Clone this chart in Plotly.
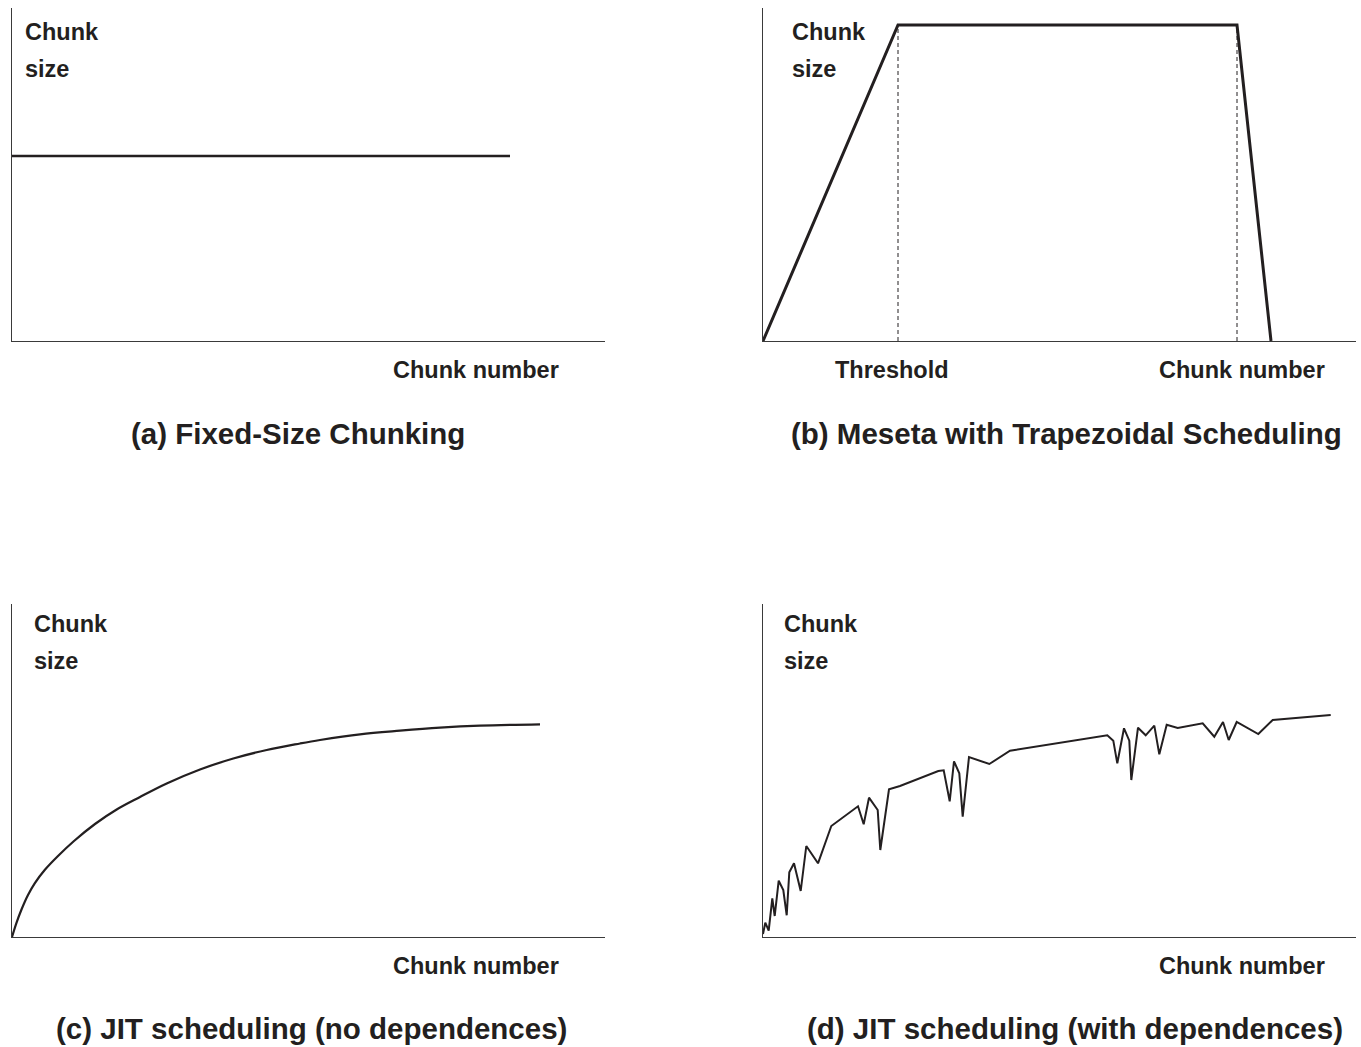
import plotly.graph_objects as go

# ---- data (arbitrary units: chunk number along x, chunk size along y) ----
# (a) fixed-size chunking
fixed_x = [0, 498]
fixed_y = [185, 185]

# (b) trapezoidal scheduling
trap_x = [0, 135, 474, 508]
trap_y = [0, 316, 316, 0]
threshold_x = 135
plateau_end_x = 474

# (c) JIT scheduling without dependences
jit_x = [0, 4.3, 9.3, 16, 22.7, 32.7, 46, 62, 83, 104.7, 128, 154.7, 188,
         221.3, 254.7, 288, 308, 348, 388, 428, 468, 528]
jit_y = [0, 13.7, 27, 42, 53.7, 67, 81, 96, 113, 127.5, 140, 153.5, 167.5,
         178.5, 187, 193.5, 197, 202.7, 206.3, 209.3, 211.3, 212.7]

# (d) JIT scheduling with dependences
dep_x = [0, 2.3, 5.7, 9.3, 11.7, 15.7, 20.3, 23.7, 26.3, 31, 37.7, 43.3, 55,
         68.3, 95, 100.7, 106, 114.7, 117.3, 126, 137, 175.3, 180.7, 186.7,
         191, 196.3, 199.7, 206, 226.3, 247, 344.3, 350.3, 354.3, 361, 366.3,
         368.3, 375, 382.7, 391.3, 396.3, 403.7, 414.7, 439.7, 451.3, 460,
         465.7, 473.7, 495.3, 509.7, 567.7]
dep_y = [3, 14.3, 6.3, 38.7, 21, 56.3, 47, 21.7, 64.7, 73.7, 46, 91, 73.7,
         111, 130.7, 112.7, 139.3, 127, 87, 147.7, 151, 166, 166.7, 135.7,
         175.7, 163.7, 120.3, 180, 173, 186.3, 201.7, 196.3, 173.7, 208.7,
         196.3, 157, 209.3, 201.7, 211.3, 182.7, 212.3, 209, 213.7, 200.3,
         215, 197, 215, 203, 217, 222]

# ---- layout helpers ----
W, H = 1361, 1047
INK = "#231f20"
FONT = "Liberation Sans, Arial, Helvetica, sans-serif"
X_RANGE = [0, 593]
Y_RANGE = [0, 333]


def px(v):
    return v / W


def py(v):
    return 1 - v / H


panels = {
    "a": dict(x0=12, x1=605, top=8, bottom=341),
    "b": dict(x0=763, x1=1356, top=8, bottom=341),
    "c": dict(x0=12, x1=605, top=604, bottom=937),
    "d": dict(x0=763, x1=1356, top=604, bottom=937),
}
axis_ids = {"a": ("x", "y"), "b": ("x2", "y2"), "c": ("x3", "y3"), "d": ("x4", "y4")}

fig = go.Figure()

line_w = {"a": 2.6, "b": 3, "c": 2.2, "d": 2}
line_shape = {"a": "linear", "b": "linear", "c": "spline", "d": "linear"}
series = {"a": (fixed_x, fixed_y), "b": (trap_x, trap_y),
          "c": (jit_x, jit_y), "d": (dep_x, dep_y)}

for key, (xs, ys) in series.items():
    xa, ya = axis_ids[key]
    fig.add_trace(go.Scatter(x=xs, y=ys, mode="lines", xaxis=xa, yaxis=ya,
                             line=dict(color=INK, width=line_w[key],
                                       shape=line_shape[key], smoothing=1.0),
                             showlegend=False, hoverinfo="skip"))

# dashed guides in panel (b)
for gx in (threshold_x, plateau_end_x):
    fig.add_trace(go.Scatter(x=[gx, gx], y=[0, trap_y[1]], mode="lines",
                             xaxis="x2", yaxis="y2",
                             line=dict(color=INK, width=1, dash="4px,3px"),
                             showlegend=False, hoverinfo="skip"))

layout = dict(width=W, height=H, margin=dict(l=0, r=0, t=0, b=0),
              paper_bgcolor="white", plot_bgcolor="white", showlegend=False)

for key, p in panels.items():
    xa, ya = axis_ids[key]
    xname = "xaxis" + xa[1:]
    yname = "yaxis" + ya[1:]
    layout[xname] = dict(domain=[px(p["x0"]), px(p["x1"])], range=X_RANGE,
                         anchor=ya, showline=True, linecolor="#3a3a3a",
                         linewidth=1.2, showgrid=False, zeroline=False,
                         showticklabels=False, ticks="", fixedrange=True)
    layout[yname] = dict(domain=[py(p["bottom"]), py(p["top"])], range=Y_RANGE,
                         anchor=xa, showline=True, linecolor="#3a3a3a",
                         linewidth=1.2, showgrid=False, zeroline=False,
                         showticklabels=False, ticks="", fixedrange=True)

fig.update_layout(**layout)


def text(s, x, y, size, anchor="center"):
    fig.add_annotation(text=s, x=px(x), y=py(y), xref="paper", yref="paper",
                       xanchor=anchor, yanchor="middle", showarrow=False,
                       font=dict(family=FONT, size=size, color=INK, weight="bold"))


LABEL = 23.5
TITLE = 29.5

# y-axis captions
for x0, ytop in ((23, 32), (790, 32), (32, 624), (782, 624)):
    text("Chunk", x0, ytop, LABEL, "left")
    text("size", x0, ytop + 37, LABEL, "left")

# x-axis captions
text("Chunk number", 476, 370, LABEL)
text("Chunk number", 1242, 370, LABEL)
text("Threshold", 892, 370, LABEL)
text("Chunk number", 476, 966, LABEL)
text("Chunk number", 1242, 966, LABEL)

# panel titles
text("(a) Fixed-Size Chunking", 297.5, 433, TITLE)
text("(b) Meseta with Trapezoidal Scheduling", 1066, 433, TITLE)
text("(c) JIT scheduling (no dependences)", 311, 1028, TITLE)
text("(d) JIT scheduling (with dependences)", 1074.5, 1028, TITLE)

fig.write_html("out.html", config={"displayModeBar": False})
